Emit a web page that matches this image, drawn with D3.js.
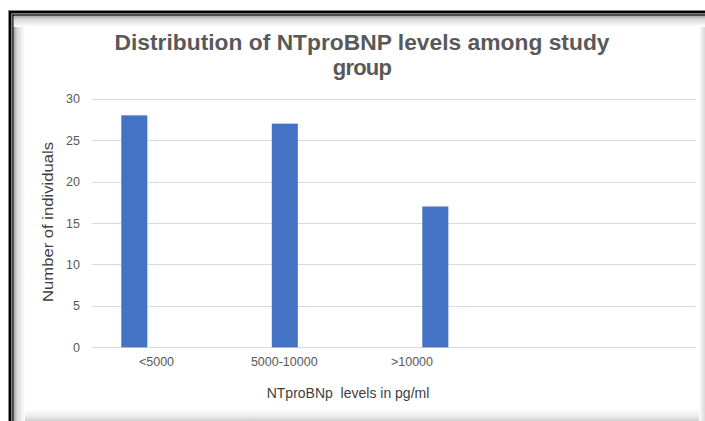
<!DOCTYPE html>
<html>
<head>
<meta charset="utf-8">
<script src="https://cdn.jsdelivr.net/npm/d3@7"></script>
<style>
  html, body { margin: 0; padding: 0; background: #fff; }
  svg { display: block; }
  text { font-family: "Liberation Sans", Arial, sans-serif; }
</style>
</head>
<body>
<svg id="chart" width="705" height="421"></svg>
<script>
// NTproBNP level groups and the number of individuals in each
const categories = ["<5000", "5000-10000", ">10000"];
const counts = [28, 27, 17];
const yTicks = [0, 5, 10, 15, 20, 25, 30];
const titleLines = ["Distribution of NTproBNP levels among study", "group"];
const xTitle = "NTproBNp  levels in pg/ml";
const yTitle = "Number of individuals";

const W = 705, H = 421;
const plot = { left: 92, right: 695.5, top: 98.8, bottom: 347.3 };

const svg = d3.select("#chart");
const defs = svg.append("defs");

// inner shadow gradients for the frame
function grad(id, x1, y1, x2, y2, stops) {
  const g = defs.append("linearGradient").attr("id", id)
    .attr("x1", x1).attr("y1", y1).attr("x2", x2).attr("y2", y2);
  stops.forEach(s => g.append("stop").attr("offset", s[0]).attr("stop-color", s[1]));
}
grad("shL", 0, 0, 1, 0, [[0, "#9a9a9a"], [0.35, "#d8d8d8"], [1, "#ffffff"]]);
grad("shT", 0, 0, 0, 1, [[0, "#9a9a9a"], [0.35, "#d8d8d8"], [1, "#ffffff"]]);
grad("shR", 0, 0, 1, 0, [[0, "#ffffff"], [1, "#dadada"]]);
grad("shB", 0, 0, 0, 1, [[0, "#ffffff"], [0.6, "#ececec"], [1, "#cfcfcf"]]);

svg.append("rect").attr("width", W).attr("height", H).attr("fill", "#fff");

// shadows
svg.append("rect").attr("x", 13).attr("y", 409).attr("width", W - 13).attr("height", 12).attr("fill", "url(#shB)");
svg.append("rect").attr("x", 699).attr("y", 15).attr("width", 6).attr("height", H - 15).attr("fill", "url(#shR)");
svg.append("rect").attr("x", 13).attr("y", 15).attr("width", 12).attr("height", H - 15).attr("fill", "url(#shL)");
svg.append("rect").attr("x", 13).attr("y", 15).attr("width", W - 13).attr("height", 12).attr("fill", "url(#shT)");

// double black frame lines (left and top)
const frame = svg.append("g");
frame.append("rect").attr("x", 8).attr("y", 10).attr("width", 1).attr("height", H - 10).attr("fill", "#888");
frame.append("rect").attr("x", 8).attr("y", 10).attr("width", W - 8).attr("height", 1).attr("fill", "#888");
frame.append("rect").attr("x", 9).attr("y", 11).attr("width", 2.5).attr("height", H - 11).attr("fill", "#000");
frame.append("rect").attr("x", 9).attr("y", 11).attr("width", W - 9).attr("height", 2.5).attr("fill", "#000");
frame.append("rect").attr("x", 12.3).attr("y", 14.3).attr("width", 1.2).attr("height", H - 14.3).attr("fill", "#000");
frame.append("rect").attr("x", 12.3).attr("y", 14.3).attr("width", W - 12.3).attr("height", 1.2).attr("fill", "#000");

// scales
const y = d3.scaleLinear().domain([0, 30]).range([plot.bottom, plot.top]);
const xBar = d3.scaleBand().domain(categories)
  .range([121.3, 121.3 + 3 * 150.5])
  .paddingInner(0.827).paddingOuter(0.4135).align(0);
const xLabel = d3.scalePoint().domain(categories).range([156, 411.5]);

// gridlines
svg.append("g").selectAll("line").data(yTicks).join("line")
  .attr("x1", plot.left).attr("x2", plot.right)
  .attr("y1", d => Math.round(y(d)) + 0.5).attr("y2", d => Math.round(y(d)) + 0.5)
  .attr("stroke", "#d9d9d9").attr("stroke-width", 1);

// y axis labels
const yAxis = svg.append("g").attr("transform", `translate(${plot.left},0)`)
  .call(d3.axisLeft(y).tickValues(yTicks).tickSize(0).tickPadding(12));
yAxis.select(".domain").remove();
yAxis.selectAll("text").attr("fill", "#595959").style("font-size", "12.5px");

// bars
svg.append("g").selectAll("rect").data(counts).join("rect")
  .attr("x", (d, i) => xBar(categories[i]))
  .attr("y", d => y(d))
  .attr("width", xBar.bandwidth())
  .attr("height", d => y(0) - y(d))
  .attr("fill", "#4472C4");

// x axis labels
const xAxis = svg.append("g").attr("transform", `translate(0,${plot.bottom})`)
  .call(d3.axisBottom(xLabel).tickSize(0).tickPadding(10));
xAxis.select(".domain").remove();
xAxis.selectAll("text").attr("fill", "#595959").style("font-size", "12.5px");

// titles
const title = svg.append("g");
title.append("text")
  .attr("x", 362).attr("y", 50)
  .attr("text-anchor", "middle")
  .attr("fill", "#595959")
  .style("font-size", "22px").style("font-weight", "bold")
  .attr("textLength", 495).attr("lengthAdjust", "spacingAndGlyphs")
  .text(titleLines[0]);
title.append("text")
  .attr("x", 362).attr("y", 75)
  .attr("text-anchor", "middle")
  .attr("fill", "#595959")
  .style("font-size", "22px").style("font-weight", "bold")
  .style("letter-spacing", "-0.8px")
  .text(titleLines[1]);

svg.append("text")
  .attr("x", 348).attr("y", 398)
  .attr("text-anchor", "middle")
  .attr("fill", "#404040")
  .style("font-size", "14px")
  .style("white-space", "pre")
  .text(xTitle);

svg.append("text")
  .attr("transform", "translate(53,222) rotate(-90)")
  .attr("text-anchor", "middle")
  .attr("fill", "#404040")
  .style("font-size", "15px")
  .attr("textLength", 160).attr("lengthAdjust", "spacingAndGlyphs")
  .text(yTitle);
</script>
</body>
</html>
